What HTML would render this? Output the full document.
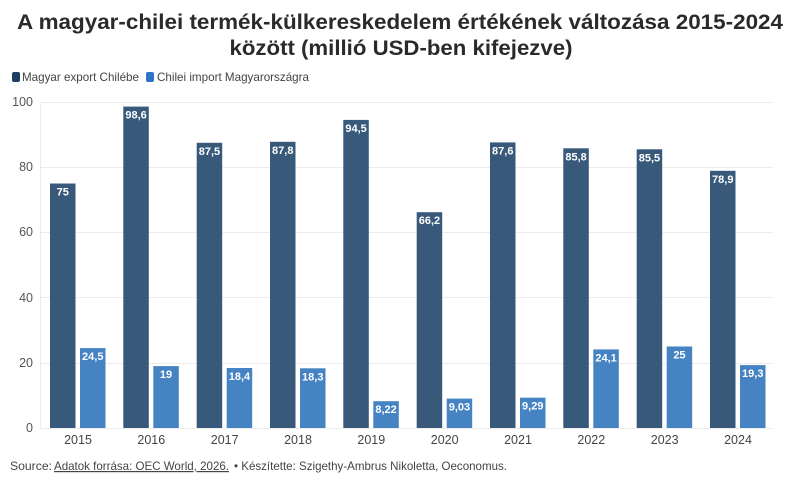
<!DOCTYPE html>
<html><head><meta charset="utf-8"><style>
html,body{margin:0;padding:0;background:#fff;}
svg{display:block;}
text{font-family:"Liberation Sans",sans-serif;}
</style></head><body>
<svg width="800" height="486" viewBox="0 0 800 486" xmlns="http://www.w3.org/2000/svg">
<rect width="800" height="486" fill="#fff"/>
<text x="400" y="29" text-anchor="middle" font-size="21.5" font-weight="bold" fill="#2a2a2a" textLength="766" lengthAdjust="spacingAndGlyphs">A magyar-chilei termék-külkereskedelem értékének változása 2015-2024</text>
<text x="401" y="55" text-anchor="middle" font-size="21.5" font-weight="bold" fill="#2a2a2a" textLength="343" lengthAdjust="spacingAndGlyphs">között (millió USD-ben kifejezve)</text>
<rect x="12" y="72" width="8" height="10" rx="2" fill="#1f3f60"/>
<text x="22" y="81" font-size="12" fill="#444" textLength="117" lengthAdjust="spacingAndGlyphs">Magyar export Chilébe</text>
<rect x="146" y="72" width="8" height="10" rx="2" fill="#2d74c4"/>
<text x="157" y="81" font-size="12" fill="#444" textLength="152" lengthAdjust="spacingAndGlyphs">Chilei import Magyarországra</text>
<g stroke="#ececec" stroke-width="1">
<line x1="40" y1="102.5" x2="773" y2="102.5"/>
<line x1="40" y1="167.5" x2="773" y2="167.5"/>
<line x1="40" y1="232.5" x2="773" y2="232.5"/>
<line x1="40" y1="297.5" x2="773" y2="297.5"/>
<line x1="40" y1="363.5" x2="773" y2="363.5"/>
<line x1="40" y1="428.5" x2="773" y2="428.5"/>
<line x1="40.5" y1="102" x2="40.5" y2="429"/>
</g>
<g font-size="12.5" fill="#555" text-anchor="end">
<text x="33" y="106">100</text>
<text x="33" y="171">80</text>
<text x="33" y="236">60</text>
<text x="33" y="302">40</text>
<text x="33" y="367">20</text>
<text x="33" y="432">0</text>
</g>
<text x="10" y="470" font-size="12" fill="#444" textLength="42" lengthAdjust="spacingAndGlyphs">Source:</text>
<text x="54" y="470" font-size="12" fill="#444" text-decoration="underline" textLength="175" lengthAdjust="spacingAndGlyphs">Adatok forrása: OEC World, 2026.</text>
<text x="234" y="470" font-size="12" fill="#444" textLength="273" lengthAdjust="spacingAndGlyphs">• Készítette: Szigethy-Ambrus Nikoletta, Oeconomus.</text>
<rect x="50" y="183.5" width="25.5" height="244.5" fill="#38597a"/>
<rect x="80" y="348.1" width="25.5" height="79.9" fill="#4583c3"/>
<rect x="123.3" y="106.6" width="25.5" height="321.4" fill="#38597a"/>
<rect x="153.3" y="366.1" width="25.5" height="61.9" fill="#4583c3"/>
<rect x="196.7" y="142.8" width="25.5" height="285.2" fill="#38597a"/>
<rect x="226.7" y="368" width="25.5" height="60" fill="#4583c3"/>
<rect x="270" y="141.8" width="25.5" height="286.2" fill="#38597a"/>
<rect x="300" y="368.3" width="25.5" height="59.7" fill="#4583c3"/>
<rect x="343.3" y="119.9" width="25.5" height="308.1" fill="#38597a"/>
<rect x="373.3" y="401.2" width="25.5" height="26.8" fill="#4583c3"/>
<rect x="416.7" y="212.2" width="25.5" height="215.8" fill="#38597a"/>
<rect x="446.7" y="398.6" width="25.5" height="29.4" fill="#4583c3"/>
<rect x="490" y="142.4" width="25.5" height="285.6" fill="#38597a"/>
<rect x="520" y="397.7" width="25.5" height="30.3" fill="#4583c3"/>
<rect x="563.3" y="148.3" width="25.5" height="279.7" fill="#38597a"/>
<rect x="593.3" y="349.4" width="25.5" height="78.6" fill="#4583c3"/>
<rect x="636.7" y="149.3" width="25.5" height="278.7" fill="#38597a"/>
<rect x="666.7" y="346.5" width="25.5" height="81.5" fill="#4583c3"/>
<rect x="710" y="170.8" width="25.5" height="257.2" fill="#38597a"/>
<rect x="740" y="365.1" width="25.5" height="62.9" fill="#4583c3"/>
<g font-size="11" font-weight="bold" fill="#fff" text-anchor="middle">
<text x="62.75" y="195.5">75</text>
<text x="92.75" y="360.1">24,5</text>
<text x="136.05" y="118.6">98,6</text>
<text x="166.05" y="378.1">19</text>
<text x="209.45" y="154.8">87,5</text>
<text x="239.45" y="380">18,4</text>
<text x="282.75" y="153.8">87,8</text>
<text x="312.75" y="380.3">18,3</text>
<text x="356.05" y="131.9">94,5</text>
<text x="386.05" y="413.2">8,22</text>
<text x="429.45" y="224.2">66,2</text>
<text x="459.45" y="410.6">9,03</text>
<text x="502.75" y="154.4">87,6</text>
<text x="532.75" y="409.7">9,29</text>
<text x="576.05" y="160.3">85,8</text>
<text x="606.05" y="361.4">24,1</text>
<text x="649.45" y="161.3">85,5</text>
<text x="679.45" y="358.5">25</text>
<text x="722.75" y="182.8">78,9</text>
<text x="752.75" y="377.1">19,3</text>
</g>
<g font-size="12.5" fill="#444" text-anchor="middle">
<text x="78" y="444">2015</text>
<text x="151.3" y="444">2016</text>
<text x="224.7" y="444">2017</text>
<text x="298" y="444">2018</text>
<text x="371.3" y="444">2019</text>
<text x="444.7" y="444">2020</text>
<text x="518" y="444">2021</text>
<text x="591.3" y="444">2022</text>
<text x="664.7" y="444">2023</text>
<text x="738" y="444">2024</text>
</g>
</svg>
</body></html>
